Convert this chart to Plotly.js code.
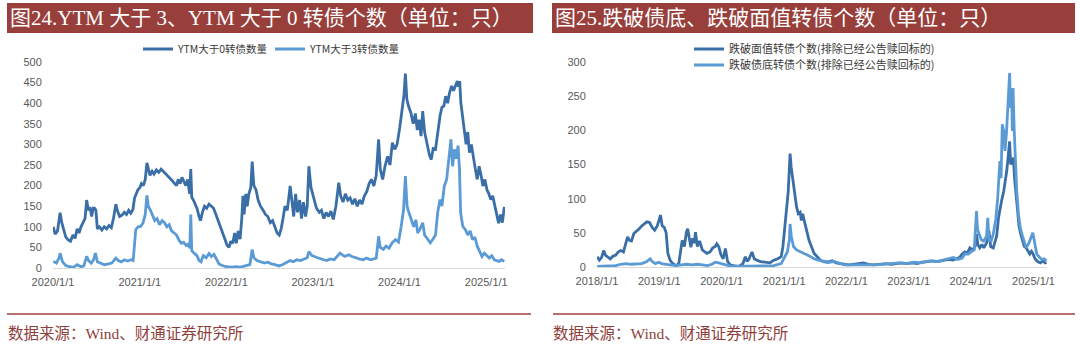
<!DOCTYPE html>
<html>
<head>
<meta charset="utf-8">
<script src="https://cdn.plot.ly/plotly-3.0.1.min.js"></script>
<style>
html,body{margin:0;padding:0;background:#fff;}
#chart{width:1080px;height:351px;}
</style>
</head>
<body>
<div id="chart"></div>
<script>
// ---------- Titles / labels ----------
const leftTitle = "图24.YTM 大于 3、YTM 大于 0 转债个数（单位：只）";
const rightTitle = "图25.跌破债底、跌破面值转债个数（单位：只）";
const sourceText = "数据来源：Wind、财通证券研究所";
const leftSeriesNames = ["YTM大于0转债数量", "YTM大于3转债数量"];
const rightSeriesNames = ["跌破面值转债个数(排除已经公告赎回标的)", "跌破债底转债个数(排除已经公告赎回标的)"];

const leftTickVals = ["2020-01-01","2021-01-01","2022-01-01","2023-01-01","2024-01-01","2025-01-01"];
const leftTickText = ["2020/1/1","2021/1/1","2022/1/1","2023/1/1","2024/1/1","2025/1/1"];
const rightTickVals = ["2018-01-01","2019-01-01","2020-01-01","2021-01-01","2022-01-01","2023-01-01","2024-01-01","2025-01-01"];
const rightTickText = ["2018/1/1","2019/1/1","2020/1/1","2021/1/1","2022/1/1","2023/1/1","2024/1/1","2025/1/1"];

// ---------- Left chart: YTM > 0 count ----------
const ytm0Series = [
["2020-01-02",100],["2020-01-10",82],["2020-01-20",90],["2020-01-27",115],["2020-01-31",134],
["2020-02-07",110],["2020-02-15",95],["2020-02-24",75],["2020-03-05",68],["2020-03-15",65],
["2020-03-25",80],["2020-04-03",72],["2020-04-12",95],["2020-04-20",85],["2020-04-28",100],
["2020-05-07",110],["2020-05-15",120],["2020-05-22",165],["2020-05-29",140],["2020-06-05",148],
["2020-06-12",125],["2020-06-19",145],["2020-06-24",145],["2020-06-30",140],["2020-07-06",95],
["2020-07-15",100],["2020-07-25",92],["2020-08-04",100],["2020-08-14",95],["2020-08-24",103],
["2020-09-03",98],["2020-09-12",120],["2020-09-22",155],["2020-09-28",140],["2020-10-08",125],
["2020-10-18",128],["2020-10-28",135],["2020-11-06",130],["2020-11-15",140],["2020-11-24",133],
["2020-12-03",142],["2020-12-10",170],["2020-12-17",180],["2020-12-24",190],["2021-01-01",195],
["2021-01-08",205],["2021-01-16",200],["2021-01-24",215],["2021-01-31",255],["2021-02-06",240],
["2021-02-13",225],["2021-02-22",235],["2021-03-02",228],["2021-03-12",238],["2021-03-22",232],
["2021-04-01",240],["2021-04-10",235],["2021-04-20",230],["2021-04-28",225],["2021-05-08",220],
["2021-05-18",212],["2021-05-28",205],["2021-06-05",200],["2021-06-12",215],["2021-06-20",205],
["2021-06-28",220],["2021-07-06",210],["2021-07-14",200],["2021-07-22",215],["2021-07-30",180],
["2021-08-04",240],["2021-08-08",172],["2021-08-15",165],["2021-08-22",155],["2021-08-30",145],
["2021-09-08",125],["2021-09-14",115],["2021-09-22",135],["2021-10-01",150],["2021-10-10",145],
["2021-10-20",155],["2021-10-30",150],["2021-11-08",145],["2021-11-18",130],["2021-11-28",115],
["2021-12-06",105],["2021-12-16",90],["2021-12-26",70],["2022-01-04",55],["2022-01-12",50],
["2022-01-20",65],["2022-01-28",60],["2022-02-05",85],["2022-02-12",60],["2022-02-20",90],
["2022-02-28",70],["2022-03-07",120],["2022-03-12",175],["2022-03-17",130],["2022-03-24",180],
["2022-03-30",150],["2022-04-06",180],["2022-04-14",195],["2022-04-20",258],["2022-04-27",200],
["2022-05-06",190],["2022-05-15",165],["2022-05-25",150],["2022-06-05",140],["2022-06-15",130],
["2022-06-25",125],["2022-07-05",110],["2022-07-15",115],["2022-07-25",100],["2022-08-03",85],
["2022-08-12",80],["2022-08-20",95],["2022-08-28",120],["2022-09-05",150],["2022-09-15",140],
["2022-09-27",199],["2022-10-05",160],["2022-10-12",125],["2022-10-20",180],["2022-10-28",135],
["2022-11-06",165],["2022-11-14",120],["2022-11-22",160],["2022-12-01",125],["2022-12-08",150],
["2022-12-15",247],["2022-12-24",195],["2023-01-05",165],["2023-01-16",145],["2023-01-28",135],
["2023-02-06",140],["2023-02-16",120],["2023-02-26",135],["2023-03-08",125],["2023-03-18",138],
["2023-03-28",118],["2023-04-08",150],["2023-04-20",207],["2023-04-28",175],["2023-05-08",160],
["2023-05-18",180],["2023-05-28",165],["2023-06-07",170],["2023-06-17",155],["2023-06-27",168],
["2023-07-07",150],["2023-07-17",165],["2023-07-27",155],["2023-08-06",175],["2023-08-16",185],
["2023-08-26",205],["2023-09-05",215],["2023-09-15",199],["2023-09-25",225],["2023-10-05",312],
["2023-10-12",240],["2023-10-22",215],["2023-11-01",247],["2023-11-12",271],["2023-11-22",250],
["2023-12-02",304],["2023-12-12",288],["2023-12-22",300],["2024-01-02",340],["2024-01-12",393],
["2024-01-20",420],["2024-01-26",472],["2024-02-01",410],["2024-02-08",393],["2024-02-18",377],
["2024-02-28",350],["2024-03-08",375],["2024-03-16",335],["2024-03-24",360],["2024-04-01",320],
["2024-04-08",381],["2024-04-16",330],["2024-04-26",304],["2024-05-06",275],["2024-05-14",263],
["2024-05-22",290],["2024-06-01",288],["2024-06-10",330],["2024-06-20",369],["2024-06-28",390],
["2024-07-06",393],["2024-07-14",417],["2024-07-22",400],["2024-07-30",425],["2024-08-08",442],
["2024-08-16",430],["2024-08-24",440],["2024-09-01",454],["2024-09-06",440],["2024-09-11",454],
["2024-09-16",400],["2024-09-22",369],["2024-09-30",328],["2024-10-08",300],["2024-10-15",330],
["2024-10-22",280],["2024-10-30",300],["2024-11-08",263],["2024-11-16",240],["2024-11-24",215],
["2024-12-02",247],["2024-12-10",225],["2024-12-18",199],["2024-12-26",215],["2025-01-04",190],
["2025-01-12",180],["2025-01-20",166],["2025-01-28",175],["2025-02-06",150],["2025-02-14",125],
["2025-02-22",109],["2025-03-02",130],["2025-03-10",110],["2025-03-18",148]
];

// ---------- Left chart: YTM > 3 count ----------
const ytm3Series = [
["2020-01-02",16],["2020-01-15",12],["2020-01-27",25],["2020-01-31",36],["2020-02-10",15],
["2020-02-24",6],["2020-03-10",3],["2020-03-28",2],["2020-04-12",8],["2020-04-28",3],
["2020-05-10",5],["2020-05-17",22],["2020-05-22",28],["2020-05-30",18],["2020-06-10",12],
["2020-06-20",20],["2020-06-28",36],["2020-07-06",15],["2020-07-20",12],["2020-08-05",8],
["2020-08-22",10],["2020-09-05",12],["2020-09-22",24],["2020-10-02",18],["2020-10-15",15],
["2020-10-28",20],["2020-11-10",17],["2020-11-25",20],["2020-12-04",18],["2020-12-09",60],
["2020-12-15",93],["2020-12-25",100],["2021-01-05",101],["2021-01-15",110],["2021-01-24",130],
["2021-01-31",176],["2021-02-06",150],["2021-02-15",140],["2021-02-25",125],["2021-03-05",115],
["2021-03-15",120],["2021-03-25",105],["2021-04-05",115],["2021-04-15",110],["2021-04-25",100],
["2021-05-05",105],["2021-05-15",90],["2021-05-25",85],["2021-06-05",80],["2021-06-15",68],
["2021-06-25",60],["2021-07-05",62],["2021-07-15",55],["2021-07-25",58],["2021-07-31",48],
["2021-08-04",130],["2021-08-08",42],["2021-08-18",36],["2021-08-30",30],["2021-09-08",18],
["2021-09-16",15],["2021-09-26",30],["2021-10-08",25],["2021-10-20",35],["2021-10-30",28],
["2021-11-10",33],["2021-11-20",20],["2021-12-01",10],["2021-12-15",6],["2022-01-01",3],
["2022-01-20",2],["2022-02-10",3],["2022-03-01",2],["2022-03-20",4],["2022-04-10",8],
["2022-04-20",45],["2022-04-27",25],["2022-05-10",18],["2022-05-25",15],["2022-06-10",12],
["2022-06-25",14],["2022-07-10",10],["2022-07-25",8],["2022-08-10",5],["2022-08-25",8],
["2022-09-10",12],["2022-09-27",18],["2022-10-10",15],["2022-10-25",20],["2022-11-10",18],
["2022-11-25",22],["2022-12-08",25],["2022-12-15",40],["2022-12-28",30],["2023-01-15",26],
["2023-02-01",22],["2023-02-15",20],["2023-03-01",18],["2023-03-15",22],["2023-04-01",20],
["2023-04-15",30],["2023-04-25",36],["2023-05-15",28],["2023-06-01",32],["2023-06-15",28],
["2023-07-01",24],["2023-07-15",22],["2023-08-01",20],["2023-08-15",24],["2023-09-01",20],
["2023-09-25",24],["2023-10-05",77],["2023-10-12",50],["2023-10-25",45],["2023-11-05",53],
["2023-11-18",48],["2023-12-01",61],["2023-12-15",69],["2023-12-28",63],["2024-01-08",100],
["2024-01-18",140],["2024-01-26",223],["2024-02-02",150],["2024-02-10",134],["2024-02-20",117],
["2024-03-01",100],["2024-03-10",117],["2024-03-18",85],["2024-03-28",95],["2024-04-08",110],
["2024-04-16",80],["2024-04-28",69],["2024-05-10",61],["2024-05-20",69],["2024-06-01",80],
["2024-06-10",134],["2024-06-20",166],["2024-06-28",150],["2024-07-08",199],["2024-07-18",215],
["2024-07-26",260],["2024-08-05",312],["2024-08-12",247],["2024-08-20",288],["2024-08-27",265],
["2024-09-04",297],["2024-09-10",240],["2024-09-15",134],["2024-09-24",101],["2024-10-05",93],
["2024-10-15",80],["2024-10-25",90],["2024-11-04",69],["2024-11-14",75],["2024-11-24",53],
["2024-12-04",40],["2024-12-14",28],["2024-12-24",36],["2025-01-04",30],["2025-01-14",24],
["2025-01-24",30],["2025-02-04",20],["2025-02-14",18],["2025-02-24",16],["2025-03-06",20],
["2025-03-18",16]
];

// ---------- Right chart: below par (面值) ----------
const belowParSeries = [
["2018-01-02",15],["2018-01-15",10],["2018-01-28",14],["2018-02-09",24],["2018-02-20",17],
["2018-03-05",14],["2018-03-20",12],["2018-04-05",16],["2018-04-20",17],["2018-05-05",22],
["2018-05-20",24],["2018-06-05",22],["2018-06-20",35],["2018-06-29",44],["2018-07-10",39],
["2018-07-22",38],["2018-08-05",49],["2018-08-20",52],["2018-09-05",56],["2018-09-20",60],
["2018-10-05",63],["2018-10-20",66],["2018-11-05",65],["2018-11-20",58],["2018-12-05",54],
["2018-12-20",60],["2019-01-08",76],["2019-01-18",60],["2019-01-30",58],["2019-02-10",50],
["2019-02-20",20],["2019-03-05",10],["2019-03-20",5],["2019-04-10",2],["2019-04-25",5],
["2019-05-05",25],["2019-05-15",39],["2019-05-28",30],["2019-06-08",50],["2019-06-16",56],
["2019-06-25",40],["2019-07-05",29],["2019-07-15",42],["2019-07-25",35],["2019-08-01",51],
["2019-08-12",30],["2019-08-25",38],["2019-09-10",25],["2019-09-25",22],["2019-10-07",20],
["2019-10-25",22],["2019-11-10",28],["2019-11-25",30],["2019-12-04",34],["2019-12-15",30],
["2019-12-28",18],["2020-01-10",12],["2020-01-23",27],["2020-02-05",8],["2020-02-20",3],
["2020-03-12",2],["2020-04-10",1],["2020-05-05",5],["2020-05-19",15],["2020-05-30",8],
["2020-06-10",12],["2020-06-27",22],["2020-07-10",12],["2020-07-25",10],["2020-08-15",8],
["2020-09-10",7],["2020-10-10",6],["2020-11-01",10],["2020-11-25",12],["2020-12-15",15],
["2020-12-25",30],["2021-01-05",58],["2021-01-15",80],["2021-01-25",110],["2021-02-01",145],
["2021-02-05",166],["2021-02-12",145],["2021-02-22",127],["2021-03-05",110],["2021-03-15",88],
["2021-03-25",78],["2021-04-05",80],["2021-04-12",68],["2021-04-20",78],["2021-04-27",70],
["2021-05-10",55],["2021-05-27",39],["2021-06-10",30],["2021-06-25",20],["2021-07-14",15],
["2021-08-01",10],["2021-08-20",8],["2021-09-12",7],["2021-10-10",9],["2021-11-01",6],
["2021-11-29",5],["2021-12-15",4],["2022-01-10",3],["2022-02-09",4],["2022-03-10",5],
["2022-04-10",6],["2022-05-10",4],["2022-06-10",3],["2022-07-10",4],["2022-08-22",5],
["2022-09-20",4],["2022-10-20",5],["2022-11-20",6],["2022-12-20",5],["2023-01-20",6],
["2023-02-20",5],["2023-03-20",7],["2023-04-20",8],["2023-05-20",9],["2023-06-20",8],
["2023-07-20",10],["2023-08-20",11],["2023-09-17",10],["2023-10-10",12],["2023-10-26",14],
["2023-11-10",19],["2023-11-25",22],["2023-12-10",20],["2023-12-25",28],["2024-01-10",25],
["2024-01-25",30],["2024-02-02",48],["2024-02-10",33],["2024-02-21",28],["2024-03-05",33],
["2024-03-15",28],["2024-04-01",35],["2024-04-15",53],["2024-04-25",30],["2024-05-10",28],
["2024-05-30",45],["2024-06-10",72],["2024-06-18",85],["2024-06-28",97],["2024-07-10",110],
["2024-07-20",126],["2024-07-28",140],["2024-08-05",160],["2024-08-14",184],["2024-08-20",150],
["2024-08-28",155],["2024-09-05",160],["2024-09-12",130],["2024-09-22",101],["2024-09-28",77],
["2024-10-08",60],["2024-10-18",48],["2024-10-28",38],["2024-11-08",30],["2024-11-19",28],
["2024-11-30",22],["2024-12-10",19],["2024-12-20",23],["2024-12-28",20],["2025-01-10",12],
["2025-01-25",8],["2025-02-10",6],["2025-02-25",9],["2025-03-10",6],["2025-03-18",7]
];

// ---------- Right chart: below bond floor (债底) ----------
const belowFloorSeries = [
["2018-01-02",1],["2018-02-15",1],["2018-03-30",1],["2018-04-20",2],["2018-05-20",4],
["2018-06-20",5],["2018-07-20",4],["2018-08-20",5],["2018-09-20",5],["2018-10-20",8],
["2018-11-08",12],["2018-11-20",8],["2018-12-10",5],["2018-12-28",7],["2019-01-15",5],
["2019-02-10",4],["2019-03-05",3],["2019-04-10",2],["2019-05-10",3],["2019-06-10",4],
["2019-07-10",3],["2019-08-10",4],["2019-09-10",3],["2019-10-10",2],["2019-11-05",4],
["2019-11-25",7],["2019-12-15",6],["2020-01-10",4],["2020-02-10",2],["2020-03-10",1],
["2020-05-10",1],["2020-07-10",2],["2020-09-10",1],["2020-11-01",2],["2020-12-15",5],
["2021-01-05",15],["2021-01-20",22],["2021-02-01",40],["2021-02-05",63],["2021-02-12",45],
["2021-02-25",30],["2021-03-15",25],["2021-04-05",22],["2021-04-25",20],["2021-05-15",18],
["2021-06-05",15],["2021-06-25",12],["2021-07-20",10],["2021-08-20",8],["2021-09-20",7],
["2021-10-20",8],["2021-11-20",5],["2021-12-20",3],["2022-02-01",3],["2022-03-20",3],
["2022-05-01",2],["2022-06-15",3],["2022-08-01",4],["2022-09-15",5],["2022-11-01",6],
["2022-12-15",5],["2023-02-01",7],["2023-03-15",6],["2023-05-01",9],["2023-06-15",8],
["2023-08-01",11],["2023-09-01",12],["2023-09-20",14],["2023-10-15",11],["2023-11-10",13],
["2023-11-25",19],["2023-12-15",19],["2024-01-05",23],["2024-01-20",25],["2024-02-02",82],
["2024-02-08",55],["2024-02-18",48],["2024-03-01",40],["2024-03-15",38],["2024-04-01",45],
["2024-04-08",72],["2024-04-15",40],["2024-04-28",38],["2024-05-10",48],["2024-05-25",70],
["2024-06-05",100],["2024-06-18",155],["2024-06-25",130],["2024-07-02",209],["2024-07-10",200],
["2024-07-18",170],["2024-07-26",194],["2024-08-05",240],["2024-08-14",284],["2024-08-19",233],
["2024-08-25",262],["2024-08-30",199],["2024-09-03",262],["2024-09-10",200],["2024-09-16",150],
["2024-09-25",110],["2024-10-05",77],["2024-10-15",58],["2024-10-25",48],["2024-11-05",38],
["2024-11-19",28],["2024-12-05",35],["2024-12-20",45],["2024-12-28",50],["2025-01-08",35],
["2025-01-20",19],["2025-02-05",14],["2025-02-20",11],["2025-03-05",12],["2025-03-18",9]
];

// ---------- Build chart ----------
const W = 1080, H = 351;
const px = v => v / W;
const py = v => 1 - v / H;

const darkBlue = "#3a6ea7";
const lightBlue = "#5b9bd5";
const tickFont = {family: "Liberation Sans, Arial, sans-serif", size: 11, color: "#595959"};
const cjkSerif = 'Liberation Serif, "Noto Sans CJK SC", serif';
const cjkSans = '"Noto Sans CJK SC", sans-serif';

function mkTrace(series, name, color, xa, ya, legendId) {
  return {
    type: "scatter", mode: "lines",
    x: series.map(p => p[0]), y: series.map(p => p[1]),
    name: name, xaxis: xa, yaxis: ya, legend: legendId,
    line: {color: color, width: 2.8}, hoverinfo: "skip"
  };
}

const traces = [
  mkTrace(ytm0Series, leftSeriesNames[0], darkBlue, "x", "y", "legend"),
  mkTrace(ytm3Series, leftSeriesNames[1], lightBlue, "x", "y", "legend2"),
  mkTrace(belowParSeries, rightSeriesNames[0], darkBlue, "x2", "y2", "legend3"),
  mkTrace(belowFloorSeries, rightSeriesNames[1], lightBlue, "x2", "y2", "legend4")
];

function xAxis(domain, range, vals, text, anchor) {
  return {
    domain: domain, type: "date", range: range, anchor: anchor,
    tickmode: "array", tickvals: vals, ticktext: text,
    showgrid: false, zeroline: false, showline: true, linecolor: "#d9d9d9", linewidth: 1,
    ticks: "outside", ticklen: 4, tickcolor: "rgba(0,0,0,0)", tickfont: tickFont, fixedrange: true
  };
}
function yAxis(domain, range, anchor) {
  return {
    domain: domain, range: range, dtick: 50, anchor: anchor,
    showgrid: false, zeroline: false, showline: false,
    ticks: "outside", ticklen: 8, tickcolor: "rgba(0,0,0,0)", tickfont: tickFont, fixedrange: true
  };
}
function legendAt(x, y, size) {
  return {
    x: x, y: y, xanchor: "left", yanchor: "middle", orientation: "h",
    bgcolor: "rgba(0,0,0,0)", borderwidth: 0,
    font: {family: cjkSans, size: size, color: "#3a3a3a"}
  };
}

const layout = {
  width: W, height: H,
  margin: {l: 0, r: 0, t: 0, b: 0},
  paper_bgcolor: "#ffffff", plot_bgcolor: "#ffffff",
  showlegend: true,
  xaxis: xAxis([px(53), px(505)], ["2020-01-01", "2025-03-21"], leftTickVals, leftTickText, "y"),
  yaxis: yAxis([py(268), py(62)], [0, 500], "x"),
  xaxis2: xAxis([px(597), px(1047)], ["2018-01-01", "2025-03-21"], rightTickVals, rightTickText, "y2"),
  yaxis2: yAxis([py(267), py(62)], [0, 300], "x2"),
  legend: legendAt(px(138), py(49), 10.5),
  legend2: legendAt(px(270), py(49), 10.5),
  legend3: legendAt(px(689), py(49), 11),
  legend4: legendAt(px(689), py(65), 11),
  shapes: [
    {type: "rect", xref: "paper", yref: "paper", x0: px(7), x1: px(533), y0: py(33), y1: py(3),
     fillcolor: "#983f3c", line: {width: 0}, layer: "below"},
    {type: "rect", xref: "paper", yref: "paper", x0: px(552), x1: px(1075), y0: py(33), y1: py(3),
     fillcolor: "#983f3c", line: {width: 0}, layer: "below"},
    {type: "line", xref: "paper", yref: "paper", x0: px(7), x1: px(531), y0: py(314), y1: py(314),
     line: {color: "#b9706d", width: 2}},
    {type: "line", xref: "paper", yref: "paper", x0: px(553), x1: px(1075), y0: py(314), y1: py(314),
     line: {color: "#b9706d", width: 2}}
  ],
  annotations: [
    {text: leftTitle, xref: "paper", yref: "paper", x: px(8), y: py(18), xanchor: "left", yanchor: "middle",
     showarrow: false, font: {family: cjkSerif, size: 21, color: "#ffffff"}},
    {text: rightTitle, xref: "paper", yref: "paper", x: px(553), y: py(18), xanchor: "left", yanchor: "middle",
     showarrow: false, font: {family: cjkSerif, size: 21, color: "#ffffff"}},
    {text: sourceText, xref: "paper", yref: "paper", x: px(6), y: py(333), xanchor: "left", yanchor: "middle",
     showarrow: false, font: {family: cjkSerif, size: 15.5, color: "#8e3e3b"}},
    {text: sourceText, xref: "paper", yref: "paper", x: px(551), y: py(333), xanchor: "left", yanchor: "middle",
     showarrow: false, font: {family: cjkSerif, size: 15.5, color: "#8e3e3b"}}
  ]
};

Plotly.newPlot("chart", traces, layout, {staticPlot: true, displayModeBar: false});
</script>
</body>
</html>
